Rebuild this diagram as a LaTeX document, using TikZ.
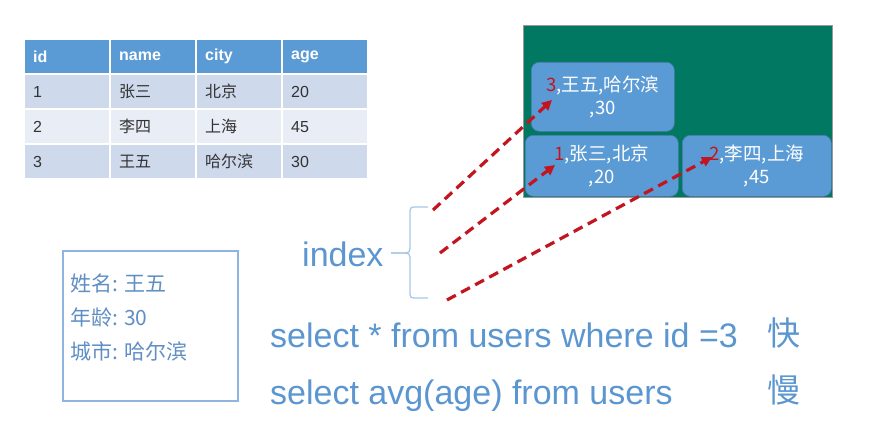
\documentclass[tikz,border=0pt]{standalone}
\usepackage{fontspec}
\setmainfont{Liberation Sans}
\newfontfamily\cjk{Noto Sans CJK SC}
\usepackage{xcolor}
\usetikzlibrary{positioning}
\usetikzlibrary{arrows.meta}
\definecolor{hdrblue}{HTML}{5B9BD5}
\definecolor{rowdark}{HTML}{CFD9EC}
\definecolor{rowlight}{HTML}{E8EDF6}
\definecolor{pagegreen}{HTML}{007862}
\definecolor{txtblue}{HTML}{5B96D0}
\definecolor{cardtxtcol}{HTML}{5F8EC4}
\definecolor{cardblue}{HTML}{8FB4DF}
\definecolor{bracecol}{HTML}{A9C7E8}
\definecolor{arrred}{HTML}{C2151F}

\begin{document}
\begin{tikzpicture}[x=1pt, y=-1pt,
    cell/.style={
        anchor=north west, text width=68pt,
        inner xsep=8pt, inner ysep=0pt,
        minimum height=33pt, align=left,
        text=black!80, font=\fontsize{16}{19}\selectfont
    },
    head cell/.style={cell, fill=hdrblue, text=white, font=\bfseries\fontsize{16}{19}\selectfont},
    dark cell/.style={cell, fill=rowdark},
    light cell/.style={cell, fill=rowlight},
    leaf/.style={
        anchor=north west, rounded corners=8pt,
        fill=hdrblue, draw=hdrblue!80!black, line width=0.6pt,
        text=white, align=center, inner sep=0pt,
        font=\cjk\fontsize{18.5}{23}\selectfont
    },
    ptr/.style={arrred, line width=3.2pt, dash pattern=on 10pt off 6pt,
        -{Triangle[length=10pt,width=10pt]}},
    blue text/.style={text=txtblue, inner sep=0pt}
]
\useasboundingbox (0,0) rectangle (894,428);

% table
\node[head cell] (hid)   at (25,40)  {id};
\node[head cell] (hname) at (111,40) {name};
\node[head cell] (hcity) at (197,40) {city};
\node[head cell] (hage)  at (283,40) {age};
\node[dark cell] (id1)   at (25,75)  {1};
\node[dark cell] (name1) at (111,75) {\cjk 张三};
\node[dark cell] (city1) at (197,75) {\cjk 北京};
\node[dark cell] (age1)  at (283,75) {20};
\node[light cell] (id2)   at (25,110)  {2};
\node[light cell] (name2) at (111,110) {\cjk 李四};
\node[light cell] (city2) at (197,110) {\cjk 上海};
\node[light cell] (age2)  at (283,110) {45};
\node[dark cell] (id3)   at (25,145)  {3};
\node[dark cell] (name3) at (111,145) {\cjk 王五};
\node[dark cell] (city3) at (197,145) {\cjk 哈尔滨};
\node[dark cell] (age3)  at (283,145) {30};

% data page
\node[anchor=north west, fill=pagegreen, draw=black!40, line width=0.6pt,
    minimum width=309pt, minimum height=172pt, inner sep=0pt] (page) at (523,25) {};
\node[leaf, minimum width=143pt, minimum height=69pt] (leaf3) at (531,62)
    {\textcolor{arrred}{3},王五,哈尔滨\\,30};
\node[leaf, minimum width=153pt, minimum height=61pt] (leaf1) at (525,135)
    {\textcolor{arrred}{1},张三,北京\\,20};
\node[leaf, minimum width=149pt, minimum height=61pt] (leaf2) at (682,135)
    {\textcolor{arrred}{2},李四,上海\\,45};

% record card
\node[anchor=north west, draw=cardblue, line width=1.5pt,
    minimum width=175pt, minimum height=150pt] (card) at (62,250) {};
\node[blue text, text=cardtxtcol, anchor=north west, align=left,
    font=\cjk\fontsize{21}{34}\selectfont] (cardtxt) at ([shift={(8,24)}]card.north west)
    {姓名: 王五\\年龄: 30\\城市: 哈尔滨};

% index with brace
\node[blue text, anchor=base west, font=\fontsize{34}{40}\selectfont] (idx) at (302,266) {index};
\coordinate (bt) at (428,207);
\coordinate (bb) at (428,298);
\coordinate (tip) at (391,253);
\draw[bracecol, line width=1.3pt] (bt) -- (417,207) .. controls (410,207) .. (410,215)
    -- (410,244) .. controls (410,253) .. (401,253) -- (tip);
\draw[bracecol, line width=1.3pt] (tip) -- (401,253) .. controls (410,253) .. (410,262)
    -- (410,290) .. controls (410,298) .. (417,298) -- (bb);

% pointers
\coordinate (t3) at (433,210);
\coordinate (t1) at (440,253);
\coordinate (t2) at (447,300);
\coordinate (h3) at (552,100);
\coordinate (h1) at (555,165);
\coordinate (h2) at (712,157);
\draw[ptr] (t3) -- (h3);
\draw[ptr] (t1) -- (h1);
\draw[ptr] (t2) -- (h2);

% queries
\node[blue text, anchor=base west, font=\fontsize{34}{40}\selectfont] (q1) at (270,347)
    {select * from users where id =3};
\node[blue text, anchor=base west, font=\cjk\fontsize{33}{40}\selectfont] (fast) at (767,345) {快};
\node[blue text, anchor=base west, font=\fontsize{34}{40}\selectfont] (q2) at (270,404)
    {select avg(age) from users};
\node[blue text, anchor=base west, font=\cjk\fontsize{33}{40}\selectfont] (slow) at (767,402) {慢};
\end{tikzpicture}
\end{document}
